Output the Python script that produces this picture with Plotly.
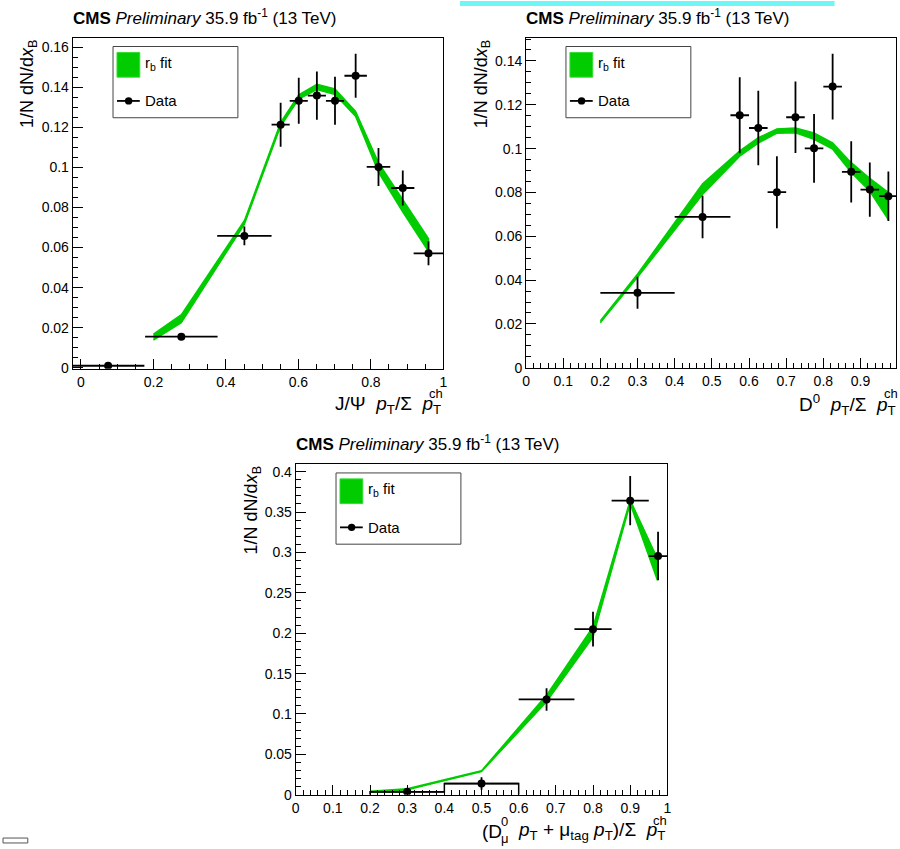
import plotly.graph_objects as go

W, H = 900, 849
FONT = "Liberation Sans, Arial, sans-serif"
GREEN = "#00cc00"

# ---------------- Panel 1: J/psi ----------------
p1_x = [0.075, 0.277, 0.451, 0.551, 0.601, 0.651, 0.701, 0.758, 0.821, 0.888, 0.959]
p1_y = [0.001, 0.0155, 0.0658, 0.1213, 0.1332, 0.1358, 0.1332, 0.1457, 0.1002, 0.0897, 0.0571]
p1_xerr = [0.1, 0.1, 0.075, 0.025, 0.025, 0.025, 0.025, 0.031, 0.0325, 0.032, 0.041]
p1_yerr = [0.0005, 0.001, 0.0047, 0.011, 0.0115, 0.012, 0.012, 0.011, 0.0095, 0.0087, 0.006]
p1_fit_x = [0.2, 0.277, 0.451, 0.551, 0.601, 0.651, 0.701, 0.758, 0.821, 0.888, 0.959]
p1_fit_lo = [0.0138, 0.0225, 0.0715, 0.1205, 0.1340, 0.1388, 0.1363, 0.1253, 0.0975, 0.0777, 0.0580]
p1_fit_hi = [0.0168, 0.0265, 0.0735, 0.1225, 0.1362, 0.1415, 0.1392, 0.1280, 0.1024, 0.0843, 0.0645]

# ---------------- Panel 2: D0 ----------------
p2_x = [0.3, 0.475, 0.575, 0.625, 0.675, 0.725, 0.775, 0.825, 0.875, 0.925, 0.975]
p2_y = [0.0342, 0.0688, 0.1152, 0.1094, 0.0801, 0.1143, 0.1001, 0.1283, 0.0894, 0.0813, 0.0783]
p2_xerr = [0.1, 0.075, 0.025, 0.025, 0.025, 0.025, 0.025, 0.025, 0.025, 0.025, 0.025]
p2_yerr = [0.0073, 0.0097, 0.0173, 0.017, 0.0164, 0.0163, 0.0157, 0.015, 0.014, 0.0124, 0.0113]
p2_fit_x = [0.2, 0.3, 0.475, 0.575, 0.625, 0.675, 0.725, 0.775, 0.825, 0.875, 0.925, 0.975]
p2_fit_lo = [0.0205, 0.0412, 0.0790, 0.0965, 0.1025, 0.1070, 0.1072, 0.1042, 0.0997, 0.0891, 0.0805, 0.0675]
p2_fit_hi = [0.0215, 0.0428, 0.0840, 0.0990, 0.1050, 0.1090, 0.1094, 0.1072, 0.1027, 0.0936, 0.0865, 0.0800]

# ---------------- Panel 3: D0_mu + mu_tag ----------------
p3_x = [0.3, 0.5, 0.675, 0.8, 0.9, 0.975]
p3_y = [0.0037, 0.0139, 0.118, 0.205, 0.364, 0.2955]
p3_xerr = [0.1, 0.1, 0.075, 0.05, 0.05, 0.025]
p3_yerr = [0.002, 0.0077, 0.014, 0.0215, 0.0305, 0.030]
p3_edges = [0.2, 0.4, 0.6]
p3_fit_x = [0.2, 0.3, 0.5, 0.675, 0.8, 0.9, 0.973]
p3_fit_lo = [0.0030, 0.0060, 0.0285, 0.1150, 0.1950, 0.3600, 0.2655]
p3_fit_hi = [0.0045, 0.0075, 0.0300, 0.1235, 0.2080, 0.3650, 0.2930]


def px(x):
    return x / W


def py(y):
    return 1 - y / H


fig = go.Figure()


def add_panel(ax, ay, fx, flo, fhi, dx, dy, dxe, dye):
    fig.add_trace(go.Scatter(
        x=list(fx) + list(fx)[::-1], y=list(fhi) + list(flo)[::-1],
        fill="toself", fillcolor=GREEN, mode="lines",
        line=dict(color=GREEN, width=1.3), xaxis=ax, yaxis=ay,
        showlegend=False, hoverinfo="skip"))
    fig.add_trace(go.Scatter(
        x=dx, y=dy, mode="markers",
        marker=dict(color="black", size=8),
        error_x=dict(type="data", array=dxe, color="black", thickness=1.8, width=0),
        error_y=dict(type="data", array=dye, color="black", thickness=1.8, width=0),
        xaxis=ax, yaxis=ay, showlegend=False))


add_panel("x", "y", p1_fit_x, p1_fit_lo, p1_fit_hi, p1_x, p1_y, p1_xerr, p1_yerr)
add_panel("x2", "y2", p2_fit_x, p2_fit_lo, p2_fit_hi, p2_x, p2_y, p2_xerr, p2_yerr)

# step outline for first two bins of panel 3
step_x = [p3_edges[0], p3_edges[0], p3_edges[1], p3_edges[1], p3_edges[2], p3_edges[2]]
step_y = [0, p3_y[0], p3_y[0], p3_y[1], p3_y[1], 0]
fig.add_trace(go.Scatter(x=step_x, y=step_y, mode="lines",
                         line=dict(color="black", width=1.5),
                         xaxis="x3", yaxis="y3", showlegend=False))
add_panel("x3", "y3", p3_fit_x, p3_fit_lo, p3_fit_hi, p3_x, p3_y, p3_xerr, p3_yerr)


def axis(domain, rng, dtick, mdtick):
    return dict(domain=domain, range=rng, dtick=dtick, tick0=0,
                showline=True, linecolor="black", linewidth=1, mirror=True,
                ticks="inside", ticklen=10, tickwidth=1, tickcolor="black",
                minor=dict(ticks="inside", ticklen=5, dtick=mdtick, tickcolor="black", tickwidth=1),
                showgrid=False, zeroline=False,
                tickfont=dict(family=FONT, size=14, color="black"))


# panel geometry in pixels
P1 = dict(l=69.3, r=443.3, t=37.3, b=371.7)
P2 = dict(l=526.7, r=900.0, t=37.3, b=370.7)
P3 = dict(l=294.3, r=669.3, t=468.3, b=802.3)

fig.update_layout(
    width=W, height=H, autosize=False,
    margin=dict(l=0, r=0, t=0, b=0),
    paper_bgcolor="white", plot_bgcolor="white",
    xaxis=axis([px(P1["l"]), px(P1["r"])], [-0.0228, 1.0], 0.2, 0.05),
    yaxis=axis([py(P1["b"]), py(P1["t"])], [-0.0005, 0.1646], 0.02, 0.005),
    xaxis2=axis([px(P2["l"]), px(P2["r"])], [0, 0.9955], 0.1, 0.02),
    yaxis2=axis([py(P2["b"]), py(P2["t"])], [0, 0.1505], 0.02, 0.005),
    xaxis3=axis([px(P3["l"]), px(P3["r"])], [0, 1.0], 0.1, 0.02),
    yaxis3=axis([py(P3["b"]), py(P3["t"])], [0, 0.409], 0.05, 0.01),
)
fig.layout.xaxis.anchor = "y"
fig.layout.yaxis.anchor = "x"
fig.layout.xaxis2.anchor = "y2"
fig.layout.yaxis2.anchor = "x2"
fig.layout.xaxis3.anchor = "y3"
fig.layout.yaxis3.anchor = "x3"

shapes = []
annotations = []


def ann(text, x, y, size, xanchor="left", yanchor="middle", angle=0):
    annotations.append(dict(text=text, x=px(x), y=py(y), xref="paper", yref="paper",
                            xanchor=xanchor, yanchor=yanchor, showarrow=False,
                            textangle=angle, borderpad=0,
                            font=dict(family=FONT, size=size, color="black")))


TITLE = "<b>CMS</b> <i>Preliminary</i> 35.9 fb<sup>-1</sup> (13 TeV)"
for P, ty in [(P1, 16), (P2, 16), (P3, 447)]:
    ann(TITLE, P["l"] - 1, ty, 17)
    ann("1/N dN/d<i>x</i><sub>B</sub>", P["l"] - 44, P["t"] + 1, 18,
        xanchor="center", yanchor="top", angle=-90)


def legend(lx, ty):
    shapes.append(dict(type="rect", xref="paper", yref="paper",
                       x0=px(lx), x1=px(lx + 126), y0=py(ty + 72), y1=py(ty),
                       line=dict(color="#444444", width=1), fillcolor="white"))
    shapes.append(dict(type="rect", xref="paper", yref="paper",
                       x0=px(lx + 4), x1=px(lx + 27), y0=py(ty + 31), y1=py(ty + 6),
                       line=dict(color="#33dd33", width=1), fillcolor=GREEN))
    shapes.append(dict(type="line", xref="paper", yref="paper",
                       x0=px(lx + 4), x1=px(lx + 27), y0=py(ty + 55), y1=py(ty + 55),
                       line=dict(color="black", width=1.8)))
    shapes.append(dict(type="circle", xref="paper", yref="paper",
                       x0=px(lx + 12), x1=px(lx + 19.5), y0=py(ty + 58.7), y1=py(ty + 51.3),
                       line=dict(color="black", width=0), fillcolor="black"))
    ann("r<sub>b</sub> fit", lx + 31, ty + 17, 15)
    ann("Data", lx + 31, ty + 55, 15)


legend(110, 46)
legend(567, 46)
legend(335, 477)

# x-axis titles (sub/superscript stacking done with separate small texts)
ann("J/Ψ  <i>p</i><sub>T</sub>/Σ  <i>p</i><sub>T</sub>", 442, 408, 19, xanchor="right")
ann("ch", 444, 397, 13, xanchor="right")

ann("D<sup>0</sup>  <i>p</i><sub>T</sub>/Σ  <i>p</i><sub>T</sub>", 901, 408, 19, xanchor="right")
ann("ch", 903, 397, 13, xanchor="right")

ann("(D", 481, 839, 19, xanchor="left")
ann("0", 500, 829, 13, xanchor="left")
ann("μ", 500, 846, 13, xanchor="left")
ann("<i>p</i><sub>T</sub> + μ<sub>tag</sub> <i>p</i><sub>T</sub>)/Σ  <i>p</i><sub>T</sub>",
    668, 839, 19, xanchor="right")
ann("ch", 670, 828, 13, xanchor="right")

# cyan highlight bar at top and small box at bottom-left
shapes.append(dict(type="rect", xref="paper", yref="paper",
                   x0=px(460), x1=px(838), y0=py(5), y1=py(0),
                   line=dict(width=0), fillcolor="#6ff6f6"))
shapes.append(dict(type="rect", xref="paper", yref="paper",
                   x0=px(-1), x1=px(24), y0=py(851), y1=py(846),
                   line=dict(color="#555555", width=1), fillcolor="rgba(0,0,0,0)"))

fig.update_layout(shapes=shapes, annotations=annotations)
fig.write_html("out.html",
               post_script="document.body.style.margin='0';document.body.style.overflow='hidden';")
